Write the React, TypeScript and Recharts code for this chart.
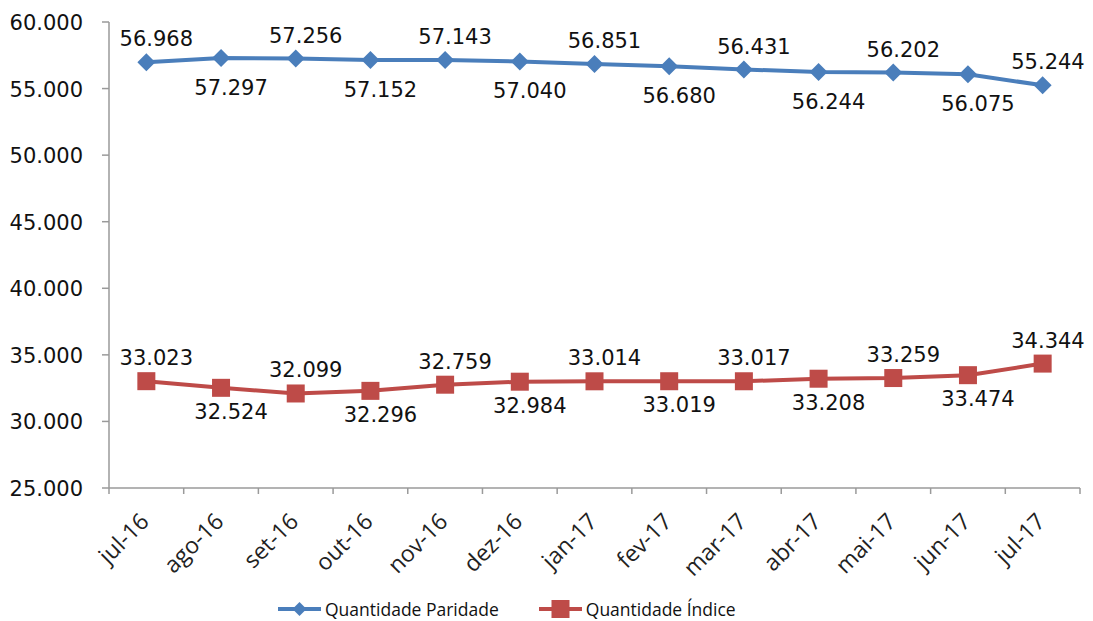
import React from 'react';
import { LineChart, Line, XAxis, YAxis, Legend, LabelList } from 'recharts';

const months = ['jul-16', 'ago-16', 'set-16', 'out-16', 'nov-16', 'dez-16', 'jan-17', 'fev-17', 'mar-17', 'abr-17', 'mai-17', 'jun-17', 'jul-17'];
const paridade = [56968, 57297, 57256, 57152, 57143, 57040, 56851, 56680, 56431, 56244, 56202, 56075, 55244];
const indice = [33023, 32524, 32099, 32296, 32759, 32984, 33014, 33019, 33017, 33208, 33259, 33474, 34344];
const yTicks = [25000, 30000, 35000, 40000, 45000, 50000, 55000, 60000];

const BLUE = '#4A7EBB';
const RED = '#BE4B48';
const AXIS = '#9A9A9A';
const FONT = '"DejaVu Sans", Verdana, sans-serif';

const data = months.map((m, i) => ({ month: m, paridade: paridade[i], indice: indice[i] }));

const W = 1093;
const H = 621;
const PLOT_LEFT = 109;
const PLOT_RIGHT = 1080;
const band = (PLOT_RIGHT - PLOT_LEFT) / months.length;

// 56968 -> "56.968"
const fmt = (v: number) => String(Math.round(v)).replace(/\B(?=(\d{3})+(?!\d))/g, '.');

// labels alternate above / below the point, nudged a little to the right like the original
const AltLabel = (props: any) => {
  const { x, y, value, index, below = 35 } = props;
  const above = index % 2 === 0;
  const cx = Math.min(x + 10, W - 8 - 37);
  return (
    <text
      x={cx}
      y={above ? y - 16 : y + below}
      textAnchor="middle"
      fontFamily={FONT}
      fontSize={21}
      fill="#111"
    >
      {fmt(value)}
    </text>
  );
};

const XTick = (props: any) => {
  const { x, y, payload, index } = props;
  const last = index === months.length - 1;
  const tx = x + 4;
  const ty = y + 35;
  return (
    <g>
      <line x1={x - band / 2} x2={x - band / 2} y1={y} y2={y + 6} stroke={AXIS} strokeWidth={1.5} />
      {last && <line x1={x + band / 2} x2={x + band / 2} y1={y} y2={y + 6} stroke={AXIS} strokeWidth={1.5} />}
      <text
        x={tx}
        y={ty}
        textAnchor="end"
        fontFamily={'"Open Sans", sans-serif'}
        fontSize={23}
        fill="#222"
        transform={`rotate(-45, ${tx}, ${ty})`}
      >
        {payload.value}
      </text>
    </g>
  );
};

const YTick = (props: any) => {
  const { y, payload } = props;
  return (
    <g>
      <line x1={PLOT_LEFT - 7} x2={PLOT_LEFT} y1={y} y2={y} stroke={AXIS} strokeWidth={1.5} />
      <text x={83} y={y + 8} textAnchor="end" fontFamily={FONT} fontSize={21} fill="#111">
        {fmt(payload.value)}
      </text>
    </g>
  );
};

const Diamond = (props: any) => {
  const { cx, cy } = props;
  if (cx == null || cy == null) return null;
  const r = 9;
  return <path d={`M${cx},${cy - r}L${cx + r},${cy}L${cx},${cy + r}L${cx - r},${cy}Z`} fill={BLUE} />;
};

const Square = (props: any) => {
  const { cx, cy } = props;
  if (cx == null || cy == null) return null;
  const s = 9;
  return <rect x={cx - s} y={cy - s} width={s * 2} height={s * 2} fill={RED} />;
};

const LegendContent = () => {
  const item = (color: string, label: string, square: boolean) => (
    <div style={{ display: 'flex', alignItems: 'center', gap: 4 }}>
      <svg width={43} height={20}>
        <line x1={0} x2={43} y1={10} y2={10} stroke={color} strokeWidth={4} />
        {square ? (
          <rect x={12.5} y={1} width={18} height={18} fill={color} />
        ) : (
          <path d="M21.5,3L28.5,10L21.5,17L14.5,10Z" fill={color} />
        )}
      </svg>
      <span style={{ fontFamily: '"Open Sans", sans-serif', fontSize: 17.5, color: '#111' }}>{label}</span>
    </div>
  );
  return (
    <div style={{ display: 'flex', justifyContent: 'flex-start', gap: 40, paddingLeft: 278, paddingTop: 14 }}>
      {item(BLUE, 'Quantidade Paridade', false)}
      {item(RED, 'Quantidade Índice', true)}
    </div>
  );
};

export default function App() {
  return (
    <div style={{ position: 'absolute', left: 0, top: 0, width: W, height: H, background: '#fff' }}>
      <LineChart width={W} height={H} data={data} margin={{ top: 22, right: W - PLOT_RIGHT, left: 0, bottom: 0 }}>
        <XAxis
          dataKey="month"
          height={95}
          stroke={AXIS}
          strokeWidth={1.5}
          tickLine={false}
          tickSize={0}
          tickMargin={0}
          interval={0}
          padding={{ left: band / 2, right: band / 2 }}
          tick={<XTick />}
        />
        <YAxis
          domain={[25000, 60000]}
          ticks={yTicks}
          width={PLOT_LEFT}
          stroke={AXIS}
          strokeWidth={1.5}
          tickLine={false}
          tickSize={0}
          tick={<YTick />}
          interval={0}
        />
        <Legend verticalAlign="bottom" height={38} content={<LegendContent />} />
        <Line
          type="linear"
          dataKey="paridade"
          name="Quantidade Paridade"
          stroke={BLUE}
          strokeWidth={4}
          dot={<Diamond />}
          activeDot={false}
          isAnimationActive={false}
        >
          <LabelList dataKey="paridade" content={<AltLabel below={37} />} />
        </Line>
        <Line
          type="linear"
          dataKey="indice"
          name="Quantidade Índice"
          stroke={RED}
          strokeWidth={4}
          dot={<Square />}
          activeDot={false}
          isAnimationActive={false}
        >
          <LabelList dataKey="indice" content={<AltLabel below={31} />} />
        </Line>
      </LineChart>
    </div>
  );
}
